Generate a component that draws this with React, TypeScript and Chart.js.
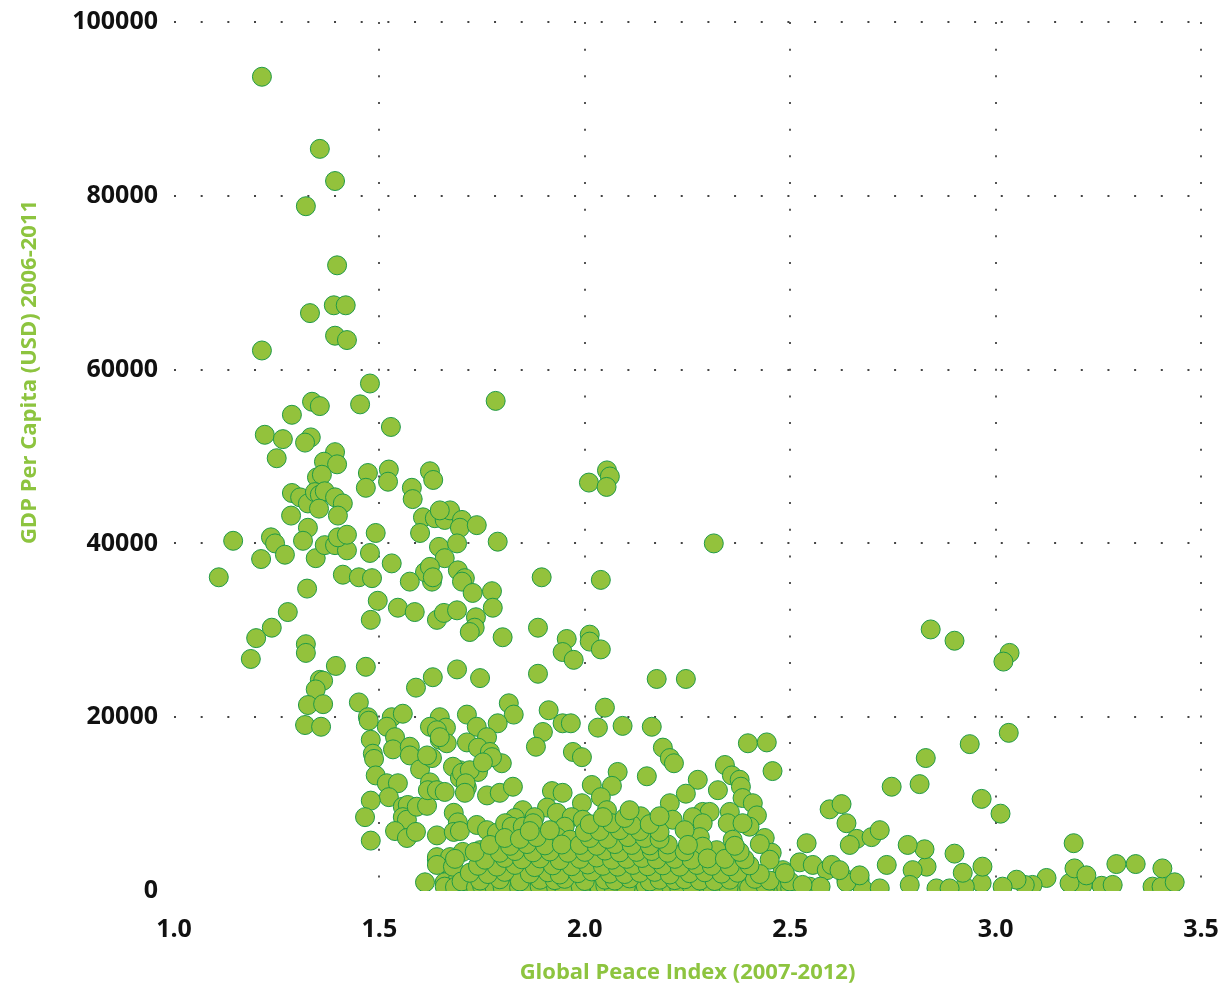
import React, { useEffect, useRef } from "react";
import { Chart, registerables } from "chart.js";

Chart.register(...registerables);

type Pt = [number, number];

const xTitle = "Global Peace Index (2007-2012)";
const yTitle = "GDP Per Capita (USD) 2006-2011";
const xMin = 1.0;
const xMax = 3.5;
const xStep = 0.5;
const yMin = 0;
const yMax = 100000;
const yStep = 20000;

// [Global Peace Index, GDP per capita]
const highIncome: Pt[] = [
  [1.214, 93700], [1.355, 85400], [1.392, 81700], [1.321, 78800], [1.397, 72000],
  [1.331, 66500], [1.389, 67400], [1.418, 67400], [1.392, 63900], [1.421, 63400],
  [1.214, 62200], [1.477, 58400], [1.453, 56000], [1.783, 56400], [1.336, 56300],
  [1.355, 55800], [1.287, 54800], [1.528, 53400], [1.221, 52500], [1.265, 52000],
  [1.333, 52200], [1.319, 51600], [1.392, 50500], [1.25, 49800], [1.365, 49400],
  [1.397, 49100], [1.348, 47600], [1.36, 47900], [1.472, 48100], [1.523, 48500],
  [1.623, 48300], [1.631, 47300], [1.521, 47100], [1.467, 46400], [1.579, 46400],
  [2.01, 47000], [2.054, 48400], [2.061, 47700], [2.053, 46500],
  [1.581, 45100], [1.287, 45800], [1.307, 45300], [1.326, 44600], [1.343, 45900],
  [1.355, 45600], [1.367, 46000], [1.353, 44000], [1.392, 45300], [1.411, 44600],
  [1.399, 43200], [1.285, 43200], [1.326, 41800], [1.314, 40300], [1.606, 43000],
  [1.635, 42900], [1.659, 42700], [1.672, 43800], [1.599, 41200], [1.647, 43800],
  [1.701, 42700], [1.696, 41800], [1.737, 42100],
];

const upperMiddle: Pt[] = [
  [1.144, 40300], [1.236, 40700], [1.246, 40000], [1.27, 38700], [1.345, 38300],
  [1.367, 39800], [1.392, 39800], [1.421, 39200], [1.399, 40700], [1.421, 41000],
  [1.212, 38200], [1.491, 41200], [1.477, 38900], [1.53, 37700], [1.645, 39600],
  [1.659, 38300], [1.689, 40000], [1.788, 40200], [2.314, 40000], [1.109, 36100],
  [1.411, 36400], [1.45, 36100], [1.482, 36000], [1.324, 34800], [1.496, 33400],
  [1.545, 32600], [1.586, 32100], [1.628, 35600], [1.611, 36700], [1.623, 37300],
  [1.63, 36100], [1.574, 35600], [1.691, 36900], [1.708, 36000], [1.701, 35600],
  [1.727, 34300], [1.774, 34500], [1.776, 32600], [1.895, 36100], [2.039, 35800],
  [1.64, 31200], [1.657, 32000], [1.689, 32300], [1.735, 31500], [1.732, 30300],
  [1.72, 29800], [1.479, 31200], [1.277, 32100], [1.238, 30300], [1.2, 29100],
  [1.321, 28400], [1.321, 27400], [1.187, 26700], [1.394, 25900], [1.467, 25800],
  [1.8, 29200], [1.886, 30300], [1.956, 29000], [1.946, 27500], [1.973, 26600],
  [2.012, 29500], [2.012, 28700], [2.039, 27800], [2.842, 30100], [2.9, 28800],
  [3.034, 27400], [3.019, 26400], [1.689, 25500], [1.745, 24500], [1.886, 25000],
  [2.175, 24400], [2.246, 24400], [1.63, 24600], [1.589, 23400], [1.355, 24300],
  [1.363, 24200], [1.345, 23200], [1.326, 21400], [1.363, 21500], [1.45, 21700],
  [1.815, 21600], [2.049, 21100], [1.912, 20800],
];

const lowerMiddle: Pt[] = [
  [1.53, 20000], [1.557, 20400], [1.472, 20000], [1.319, 19100], [1.358, 18900],
  [1.827, 20300], [1.788, 19300], [1.713, 20300], [1.946, 19300], [1.966, 19300],
  [2.032, 18800], [2.092, 19000], [2.163, 18900], [1.898, 18300], [1.881, 16600],
  [1.971, 16000], [1.993, 15400], [2.19, 16500], [2.207, 15300], [2.217, 14700],
  [2.08, 13700], [2.151, 13200], [2.275, 12800], [2.341, 14500], [2.358, 13300],
  [2.377, 12800], [2.324, 11600], [2.246, 11200], [2.017, 12200], [2.066, 12100],
  [1.92, 11500], [1.946, 11300], [1.647, 20000], [1.662, 18800], [1.647, 17400],
  [1.664, 17000], [1.737, 18900], [1.762, 17700], [1.713, 17100], [1.74, 16500],
  [1.769, 16000], [1.798, 14700], [1.774, 15400], [1.74, 13700], [1.696, 13900],
  [1.679, 14300], [1.696, 13000], [1.713, 11900], [1.762, 11000], [1.793, 11300],
  [1.825, 12000], [1.474, 19600], [1.518, 18900], [1.538, 17700], [1.533, 16300],
  [1.479, 17400], [1.484, 15800], [1.487, 15200], [1.574, 16600], [1.574, 15600],
  [1.599, 14000], [1.623, 18900], [1.64, 18500], [1.647, 17700], [1.628, 15300],
  [1.616, 15600], [1.491, 13300], [1.518, 12400], [1.545, 12400], [1.523, 10800],
  [1.479, 10400], [1.465, 8500], [1.557, 9700], [1.569, 9900], [1.557, 8500],
  [1.567, 8200], [1.591, 9700], [1.616, 9800], [1.623, 12500], [1.618, 11600],
  [1.64, 11600], [1.659, 11400], [1.681, 9000], [1.691, 7900], [1.701, 13600],
  [1.72, 13900], [1.752, 14800], [1.71, 12400], [1.708, 11300],
  [2.397, 17000], [2.443, 17100], [2.457, 13800], [2.38, 12000], [2.384, 10700],
  [2.409, 10100], [2.419, 8700], [2.039, 10800], [2.054, 9300], [2.136, 8600],
  [1.993, 10100], [1.908, 9600], [1.932, 9000], [1.968, 8500], [1.995, 8200],
  [1.849, 9300], [1.83, 8400], [1.878, 8500], [2.207, 10100], [2.287, 9100],
  [2.304, 9100], [2.214, 8200], [2.263, 8500], [2.353, 9100], [2.596, 9400],
  [2.625, 10000], [2.747, 12000], [2.815, 12300], [2.83, 15300], [2.937, 16900],
  [2.966, 10600], [3.012, 8900], [3.032, 18200],
];

const lowIncomeScatter: Pt[] = [
  [1.479, 5800], [1.538, 6900], [1.567, 6100], [1.589, 6800], [1.64, 6400],
  [1.681, 6800], [1.696, 6900], [1.64, 3600], [1.659, 3200], [1.611, 1000],
  [1.659, 1000], [1.691, 1300], [1.71, 500], [1.737, 7600], [1.762, 7000],
  [1.786, 6700], [1.806, 7800], [1.822, 7400], [1.849, 7400], [1.874, 7800],
  [1.951, 7400], [1.932, 6200], [1.964, 5900], [2.401, 7400], [2.438, 6100],
  [2.455, 4400], [2.287, 7800], [2.348, 7800], [2.384, 7800], [2.36, 5900],
  [2.321, 4700], [2.28, 6200], [2.243, 7000], [2.287, 5100], [2.54, 5500],
  [2.637, 7800], [2.662, 6000], [2.645, 5300], [2.482, 2400], [2.523, 3300],
  [2.555, 3000], [2.589, 2400], [2.45, 3600], [2.637, 1300], [2.669, 1300],
  [2.676, 300],
  [1.64, 3900], [1.672, 3900], [1.703, 4500], [1.745, 4700], [1.776, 3900],
  [1.8, 3300], [1.64, 3000], [1.679, 2800],
];

const lowIncomeBand: Pt[] = [
  [1.72, 460], [1.769, 350], [1.825, 520], [1.854, 600], [1.903, 400], [1.966, 480],
  [2.012, 300], [2.029, 550], [2.036, 420], [2.085, 380], [2.124, 500], [2.148, 620],
  [2.195, 350], [2.248, 450], [2.273, 560], [2.297, 400], [2.328, 330], [2.382, 510],
  [2.426, 470], [2.465, 390], [2.477, 600], [2.523, 450], [2.547, 500],
  [1.659, 500], [1.684, 450], [1.70, 1100], [1.735, 400], [1.75, 600], [1.78, 500],
  [1.80, 450], [1.84, 400], [1.87, 350], [1.89, 550], [1.93, 450], [1.95, 300],
  [1.99, 500], [2.05, 600], [2.07, 450], [2.10, 500], [2.17, 400], [2.21, 550],
  [2.23, 300], [2.26, 600], [2.31, 500], [2.35, 450], [2.40, 350], [2.44, 550],
  [2.49, 450], [2.50, 300],
  [1.745, 1200], [1.793, 1350], [1.842, 1100], [1.891, 1300], [1.927, 1250],
  [1.951, 1400], [2.0, 1150], [2.049, 1300], [2.073, 1200], [2.109, 1450],
  [2.158, 1100], [2.182, 1300], [2.219, 1250], [2.243, 1350], [2.28, 1200],
  [2.316, 1150], [2.353, 1300], [2.414, 1400], [2.45, 1200], [2.499, 1100],
  [1.72, 2100], [1.764, 1950], [1.805, 2200], [1.866, 2000], [1.91, 2150],
  [1.939, 1900], [1.983, 2050], [2.017, 2250], [2.061, 2000], [2.097, 1950],
  [2.134, 2100], [2.17, 2200], [2.207, 1900], [2.255, 2050], [2.292, 2150],
  [2.333, 2000], [2.372, 2100], [2.426, 1950], [2.487, 2050],
  [1.74, 2900], [1.786, 2800], [1.83, 3000], [1.878, 2750], [1.922, 2950],
  [1.968, 2850], [2.007, 3050], [2.044, 2900], [2.08, 2800], [2.117, 3000],
  [2.153, 2850], [2.19, 2950], [2.231, 2800], [2.273, 3000], [2.309, 2900],
  [2.353, 2850], [2.401, 2950],
  [1.684, 3700], [1.757, 3600], [1.805, 3800], [1.847, 3650], [1.891, 3750],
  [1.939, 3550], [1.988, 3700], [2.029, 3850], [2.066, 3600], [2.102, 3700],
  [2.139, 3800], [2.175, 3650], [2.219, 3700], [2.26, 3600], [2.299, 3750],
  [2.341, 3700], [2.389, 3650],
  [1.732, 4500], [1.793, 4400], [1.83, 4600], [1.874, 4450], [1.915, 4550],
  [1.959, 4400], [2.0, 4500], [2.049, 4650], [2.085, 4450], [2.126, 4500],
  [2.163, 4600], [2.202, 4400], [2.243, 4550], [2.377, 4500],
  [1.769, 5300], [1.818, 5200], [1.859, 5400], [1.903, 5250], [1.944, 5350],
  [1.988, 5300], [2.029, 5200], [2.073, 5400], [2.114, 5300], [2.158, 5250],
  [2.202, 5350], [2.251, 5300], [2.365, 5200], [2.426, 5400],
  [1.805, 6100], [1.842, 6000], [1.883, 6200], [2.012, 6100], [2.056, 6000],
  [2.105, 6200], [2.146, 6100], [2.182, 6000],
  [1.866, 6900], [1.915, 7000], [2.0, 6800], [2.036, 6900], [2.085, 7000],
  [2.134, 6900], [2.182, 6800],
  [2.012, 7700], [2.066, 7800], [2.114, 7600], [2.158, 7700],
  [2.044, 8500], [2.097, 8400], [2.182, 8600], [2.109, 9300],
];

const highRiskLow: Pt[] = [
  [3.382, 500], [3.404, 500], [3.436, 1000], [3.406, 2600], [3.341, 3100],
  [3.294, 3100], [3.258, 600], [3.285, 700], [3.212, 700], [3.18, 900],
  [3.192, 2600], [3.221, 1800], [3.124, 1500], [3.09, 700], [3.071, 700],
  [3.051, 1300], [3.017, 500], [2.966, 900], [2.968, 2800], [2.925, 500],
  [2.92, 2100], [2.9, 4300], [2.856, 300], [2.888, 300], [2.832, 2800],
  [2.827, 4800], [2.786, 5300], [2.798, 2400], [2.791, 700], [2.735, 3000],
  [2.718, 300], [2.637, 1000], [2.669, 1800], [2.574, 500], [2.53, 700],
  [2.601, 3000], [2.62, 2400], [2.698, 6200], [2.718, 7000], [3.19, 5500],
];

const allPoints: Pt[] = [
  ...highIncome,
  ...upperMiddle,
  ...lowerMiddle,
  ...lowIncomeScatter,
  ...lowIncomeBand,
  ...highRiskLow,
];

const GREEN_TITLE = "#8dc43f";
const FONT = "'Open Sans', 'DejaVu Sans', sans-serif";

const yTitlePlugin = {
  id: "yTitlePlugin",
  afterDraw(chart: any) {
    const ctx = chart.ctx as CanvasRenderingContext2D;
    ctx.save();
    ctx.translate(30, 372);
    ctx.rotate(-Math.PI / 2);
    ctx.font = `bold 22px ${FONT}`;
    ctx.fillStyle = GREEN_TITLE;
    ctx.textAlign = "center";
    ctx.textBaseline = "middle";
    ctx.fillText(yTitle, 0, 0);
    ctx.restore();
  },
};

export default function App() {
  const ref = useRef<HTMLCanvasElement | null>(null);

  useEffect(() => {
    if (!ref.current) return;
    const chart = new Chart(ref.current, {
      type: "scatter",
      data: {
        datasets: [
          {
            label: "Countries",
            data: allPoints.map(([x, y]) => ({ x, y })),
            backgroundColor: "#93c23c",
            borderColor: "#1f9a46",
            borderWidth: 1,
            pointRadius: 9.5,
            pointHoverRadius: 9.5,
          },
        ],
      },
      options: {
        responsive: false,
        animation: false,
        events: [],
        layout: { autoPadding: false, padding: { top: 22, right: 22, left: 0, bottom: 0 } },
        plugins: {
          legend: { display: false },
          tooltip: { enabled: false },
          title: { display: false },
        },
        scales: {
          x: {
            type: "linear",
            min: xMin,
            max: xMax,
            afterFit: (scale: any) => {
              scale.height = 98;
              scale.paddingLeft = 0;
              scale.paddingRight = 0;
            },
            ticks: {
              stepSize: xStep,
              padding: 24,
              color: "#111",
              font: { family: FONT, size: 25, weight: "bold" },
              callback: (v: any) => Number(v).toFixed(1),
            },
            grid: {
              drawTicks: false,
              lineWidth: 2,
              color: (ctx: any) => (ctx.index === 0 ? "rgba(0,0,0,0)" : "#555"),
            },
            border: { display: false, dash: [2, 24.67] },
            title: {
              display: true,
              text: xTitle,
              color: GREEN_TITLE,
              font: { family: FONT, size: 22, weight: "bold" },
              padding: { top: 0, bottom: 3 },
            },
          },
          y: {
            type: "linear",
            min: yMin,
            max: yMax,
            afterFit: (scale: any) => {
              scale.width = 174;
              scale.paddingTop = 0;
              scale.paddingBottom = 0;
            },
            ticks: {
              stepSize: yStep,
              padding: 16,
              color: "#111",
              font: { family: FONT, size: 25, weight: "bold" },
              callback: (v: any) => String(v),
            },
            grid: {
              drawTicks: false,
              lineWidth: 2,
              color: (ctx: any) => (ctx.index === 0 ? "rgba(0,0,0,0)" : "#444"),
            },
            border: { display: false, dash: [2, 24.67] },
          },
        },
      },
      plugins: [yTitlePlugin],
    });
    return () => chart.destroy();
  }, []);

  return (
    <div style={{ position: "fixed", left: 0, top: 0, width: 1223, height: 989, background: "#fff" }}>
      <canvas ref={ref} width={1223} height={989} style={{ display: "block" }} />
    </div>
  );
}
